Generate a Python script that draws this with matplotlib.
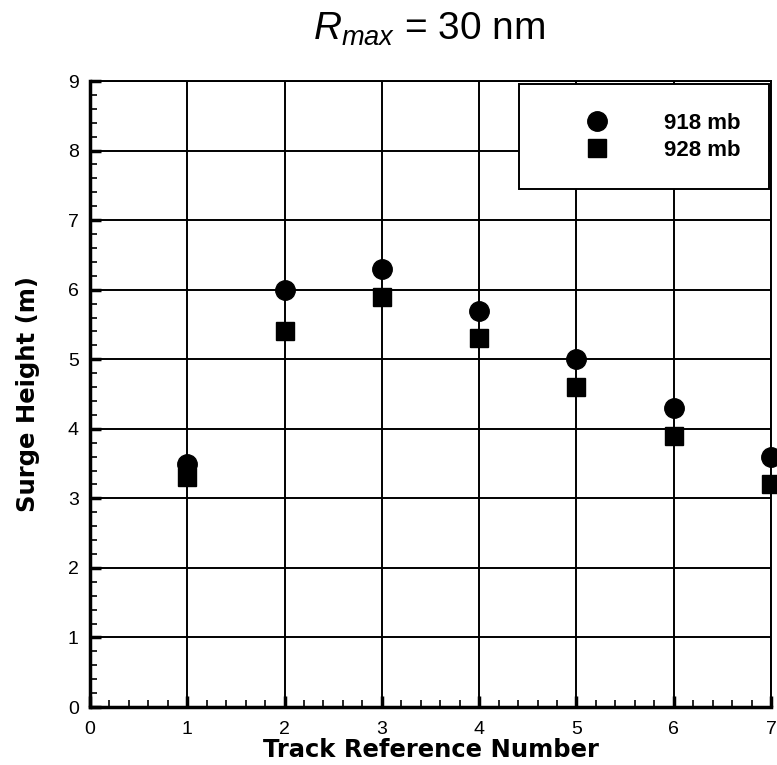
import matplotlib
matplotlib.use('Agg')
import matplotlib.pyplot as plt
from matplotlib.ticker import MultipleLocator

track = [1, 2, 3, 4, 5, 6, 7]
surge_918 = [3.5, 6.0, 6.3, 5.7, 5.0, 4.3, 3.6]
surge_928 = [3.3, 5.4, 5.9, 5.3, 4.6, 3.9, 3.2]
xticks = [0, 1, 2, 3, 4, 5, 6, 7]
yticks = [0, 1, 2, 3, 4, 5, 6, 7, 8, 9]

plt.rcParams['font.family'] = ['Liberation Sans', 'DejaVu Sans']
plt.rcParams['mathtext.fontset'] = 'custom'
plt.rcParams['mathtext.it'] = 'Liberation Sans:italic'
plt.rcParams['mathtext.rm'] = 'Liberation Sans'

fig = plt.figure(figsize=(7.77, 7.65), dpi=100)
ax = fig.add_axes([0.1158, 0.0758, 0.8765, 0.8183])

ax.grid(True, color='black', linewidth=1.4)
ax.set_axisbelow(True)

ax.plot(track, surge_918, 'o', color='black', markersize=14, label='918 mb', clip_on=False, zorder=3)
ax.plot(track, surge_928, 's', color='black', markersize=12.5, label='928 mb', clip_on=False, zorder=3)

ax.set_xlim(0, 7)
ax.set_ylim(0, 9)
ax.set_xticks(xticks)
ax.set_yticks(yticks)
ax.xaxis.set_minor_locator(MultipleLocator(0.2))
ax.yaxis.set_minor_locator(MultipleLocator(0.2))
ax.tick_params(which='major', direction='in', length=8, width=2.5, top=False, right=False)
ax.tick_params(which='minor', direction='in', length=5, width=1.2, top=False, right=False)
ax.tick_params(labelsize=14, labelfontfamily='Liberation Sans')
ax.tick_params(axis='x', pad=10)
ax.tick_params(axis='y', pad=8)

for s in ax.spines.values():
    s.set_linewidth(1.4)
ax.spines['left'].set_linewidth(2.5)
ax.spines['bottom'].set_linewidth(2.5)

ax.set_xlabel('Track Reference Number', fontsize=17.5, fontweight='bold',
              family='DejaVu Sans', labelpad=0)
ax.set_ylabel('Surge Height (m)', fontsize=17.5, fontweight='bold',
              family='DejaVu Sans', labelpad=20)

fig.text(0.552, 0.962, r'$R_{max}$ = 30 nm', fontsize=28, ha='center', va='center')

leg = ax.legend(loc='upper right', bbox_to_anchor=(0.997, 0.995),
                prop={'weight': 'bold', 'size': 16}, fancybox=False, framealpha=1,
                edgecolor='black', handlelength=4.4, handletextpad=0.8,
                borderpad=1.3, labelspacing=0.25, borderaxespad=0)
leg.get_frame().set_linewidth(1.4)

plt.savefig('out.png', dpi=100)
